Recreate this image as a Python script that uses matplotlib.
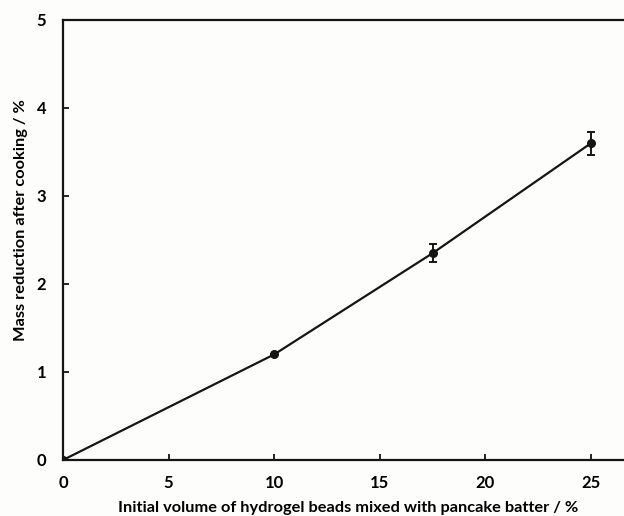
import matplotlib
matplotlib.use("Agg")
import matplotlib.pyplot as plt

x_vals = [0, 10, 17.5, 25]
y_vals = [0, 1.20, 2.35, 3.60]
y_err = [0, 0, 0.105, 0.13]
x_ticks = [0, 5, 10, 15, 20, 25]
y_ticks = [0, 1, 2, 3, 4, 5]

plt.rcParams['font.family'] = ['Lato', 'DejaVu Sans']
plt.rcParams['font.weight'] = 'bold'

fig = plt.figure(figsize=(6.24, 5.16), dpi=100)
fig.patch.set_facecolor('#fdfdfc')
ax = fig.add_axes([63/624, 56/516, (624-63)/624, 440/516])
ax.set_facecolor('#fdfdfc')
ax.errorbar(x_vals, y_vals, yerr=y_err, color='#151515', lw=1.6, marker='o', ms=5.5,
            capsize=3, elinewidth=1.4, capthick=1.4)
ax.set_xlim(0, (624-63)/((591-63)/25))
ax.set_ylim(0, 5)
ax.set_xticks(x_ticks)
ax.set_yticks(y_ticks)
ax.tick_params(direction='in', length=4, width=1.2, labelsize=12, pad=11)
ax.tick_params(axis='y', pad=12)
for lab in ax.get_xticklabels() + ax.get_yticklabels():
    lab.set_fontweight('bold')
ax.spines['right'].set_visible(False)
for s in ['left', 'bottom', 'top']:
    ax.spines[s].set_linewidth(1.6)
    ax.spines[s].set_color('#151515')
ax.set_xlabel('Initial volume of hydrogel beads mixed with pancake batter / %', fontsize=11.8,
              fontweight='bold')
ax.set_ylabel('Mass reduction after cooking / %', fontsize=11.8, fontweight='bold')
ax.xaxis.set_label_coords(0.509, -0.093)
ax.yaxis.set_label_coords(-0.062, 0.545)
fig.savefig('out.png', dpi=100, facecolor=fig.get_facecolor())
